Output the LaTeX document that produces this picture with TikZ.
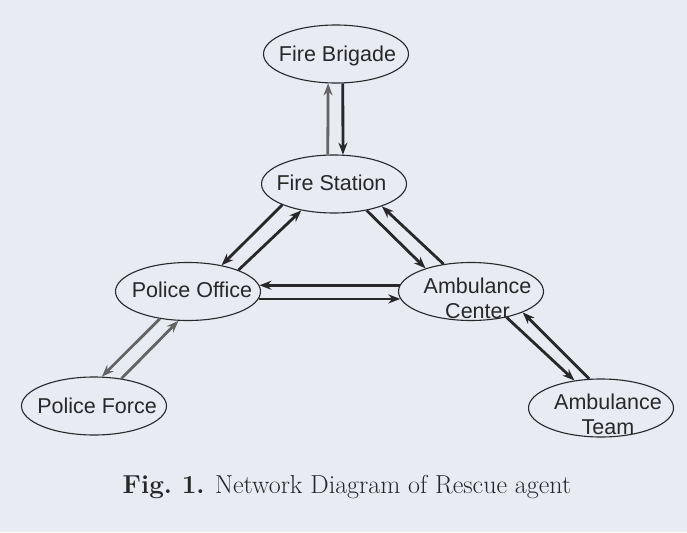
\documentclass[tikz,border=0pt]{standalone}
\usepackage{fontspec}
\newfontfamily\labelfont{Liberation Sans}
\usetikzlibrary{arrows.meta,shapes.geometric}
\definecolor{bg}{RGB}{233,235,243}
\definecolor{ink}{RGB}{40,40,40}
\definecolor{inkl}{RGB}{100,100,100}
\begin{document}
\begin{tikzpicture}[x=1pt,y=1pt,
  agent/.style={draw=ink, line width=1.1pt, ellipse, minimum width=145pt, minimum height=58pt, inner sep=0pt},
  lbl/.style={font=\labelfont\fontsize{21.5}{25}\selectfont, text=ink, anchor=base, align=center, inner sep=0pt},
  arr/.style={draw=ink, line width=2.8pt, -{Stealth[length=12pt,width=9pt]}},
  arrl/.style={arr, draw=inkl},
  caption/.style={font=\fontsize{26}{30}\selectfont, text=black!85, anchor=base, inner sep=0pt}
]
\fill[bg] (0,0) rectangle (687,-532);
\useasboundingbox (0,0) rectangle (687,-532);

\node[agent] (fb) at (336,-54) {};
\node[agent] (fs) at (334,-184) {};
\node[agent] (po) at (188,-291.5) {};
\node[agent] (ac) at (471,-291.5) {};
\node[agent] (pf) at (94,-406) {};
\node[agent] (at) at (601,-408) {};

\node[lbl] (fbt) at (337.5,-62) {Fire Brigade};
\node[lbl] (fst) at (331.5,-190) {Fire Station};
\node[lbl] (pot) at (192,-297) {Police Office};
\node[lbl] (act) at (477.5,-318) {Ambulance\\Center};
\node[lbl] (pft) at (97,-413) {Police Force};
\node[lbl] (att) at (608,-434) {Ambulance\\Team};

\draw[arrl] (fs.102) -- (fb.255);
\draw[arr] (fb.283) -- (fs.73);
\draw[arr] (fs.202) -- (po.38);
\draw[arr] (po.23) -- (fs.219);
\draw[arr] (fs.321) -- (ac.153);
\draw[arr] (ac.135) -- (fs.335);
\draw[arr] (ac.175) -- (po.5);
\draw[arr] (po.354) -- (ac.186);
\draw[arrl] (po.224) -- (pf.75);
\draw[arrl] (pf.45) -- (po.252);
\draw[arr] (ac.324) -- (at.134);
\draw[arr] (at.112) -- (ac.338);

\node[caption] (cap) at (347,-493) {\textbf{Fig.\ 1.} Network Diagram of Rescue agent};
\end{tikzpicture}
\end{document}
